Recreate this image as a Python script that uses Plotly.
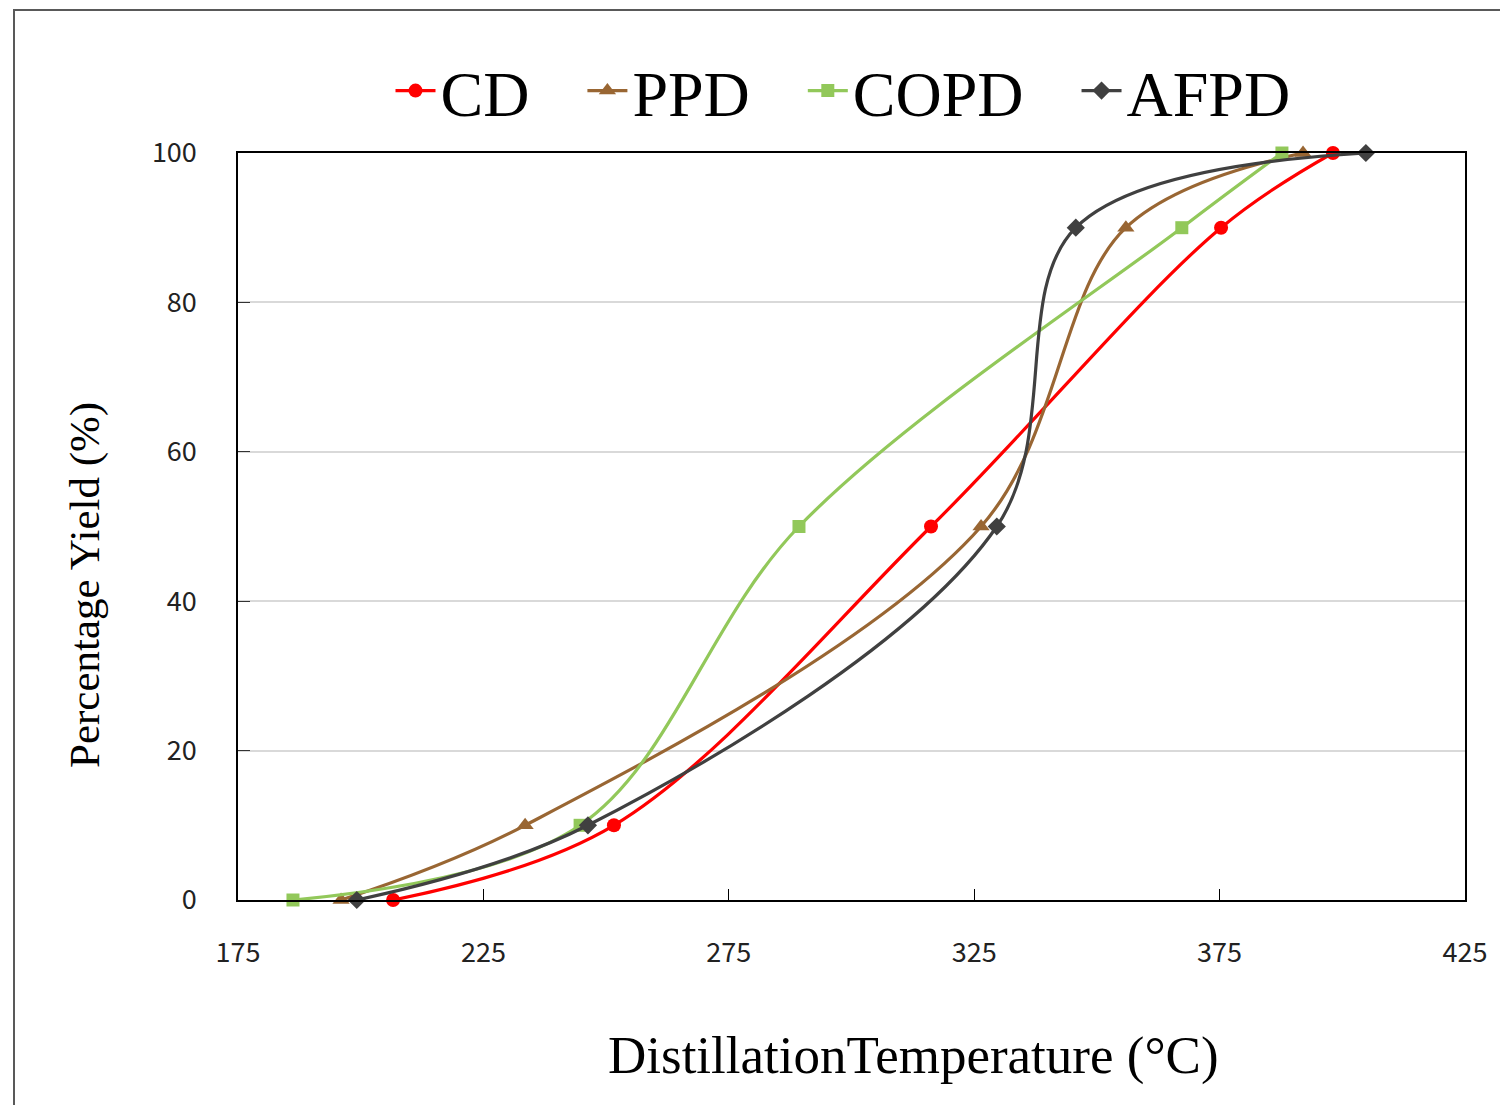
import plotly.graph_objects as go

# Data (temperature °C vs cumulative yield %)
yield_pct = [0, 10, 50, 90, 100]
cd_temp = [206.6, 251.6, 316.2, 375.3, 398.1]
ppd_temp = [196.0, 233.5, 326.4, 355.9, 392.0]
copd_temp = [186.2, 244.7, 289.3, 367.3, 387.7]
afpd_temp = [199.2, 246.3, 329.6, 345.7, 404.8]

NB = "\u00a0"
series = [
    ("CD" + NB * 3, cd_temp, "#FF0000", "circle", 14),
    ("PPD" + NB * 3, ppd_temp, "#996633", "triangle-up", 15),
    ("COPD" + NB * 3, copd_temp, "#92C85A", "square", 13),
    ("AFPD", afpd_temp, "#404040", "diamond", 14),
]

fig = go.Figure()
for name, xs, color, sym, size in series:
    fig.add_trace(go.Scatter(
        x=xs, y=yield_pct, name=name, mode="lines+markers", cliponaxis=False,
        line=dict(color=color, width=3.2, shape="spline", smoothing=1),
        marker=dict(symbol=sym, size=size, color=color),
    ))

OFF = 8  # page body margin
W, H = 1508 - OFF, 1105 - OFF
L, T = 238 - OFF, 153 - OFF
R = W - (1465 - OFF)
B = H - (900 - OFF)
pw, ph = W - L - R, H - T - B

def px(xp):
    return (xp - OFF - L) / pw

def py(yp):
    return (H - B - (yp - OFF)) / ph

fig.update_layout(
    width=W, height=H,
    margin=dict(l=L, r=R, t=T, b=B),
    paper_bgcolor="white", plot_bgcolor="white",
    showlegend=True,
    legend=dict(orientation="h", x=px(843), xanchor="center", y=py(91), yanchor="middle",
                font=dict(family="Liberation Serif", size=64, color="black"),
                itemwidth=40, bgcolor="rgba(0,0,0,0)"),
    xaxis=dict(range=[175, 425], dtick=50, tick0=175, showgrid=False,
               showline=True, linecolor="black", linewidth=2, mirror=True,
               ticks="inside", ticklen=11, tickcolor="black", tickwidth=1,
               ticklabelstandoff=28,
               tickfont=dict(family="Noto Sans CJK JP", size=27, color="#222222"),
               zeroline=False),
    yaxis=dict(range=[0, 100], dtick=20, showgrid=True, gridcolor="#d9d9d9", gridwidth=2,
               showline=True, linecolor="black", linewidth=1.5, mirror=True,
               ticks="inside", ticklen=12, tickcolor="#333333",
               ticklabelstandoff=34,
               tickfont=dict(family="Noto Sans CJK JP", size=27, color="#222222"),
               zeroline=False),
    annotations=[
        dict(text="DistillationTemperature (°C)", xref="paper", yref="paper",
             x=px(913), y=py(1055), xanchor="center", yanchor="middle", showarrow=False,
             font=dict(family="Liberation Serif", size=53, color="black")),
        dict(text="Percentage Yield (%)", xref="paper", yref="paper",
             x=px(85), y=py(585), xanchor="center", yanchor="middle", showarrow=False,
             textangle=-90,
             font=dict(family="Liberation Serif", size=43, color="black")),
    ],
    shapes=[
        dict(type="rect", xref="paper", yref="paper",
             x0=px(14), x1=px(1520), y0=py(1120), y1=py(10),
             line=dict(color="#595959", width=2), fillcolor="rgba(0,0,0,0)", layer="below"),
    ],
)

fig.write_html("out.html")
